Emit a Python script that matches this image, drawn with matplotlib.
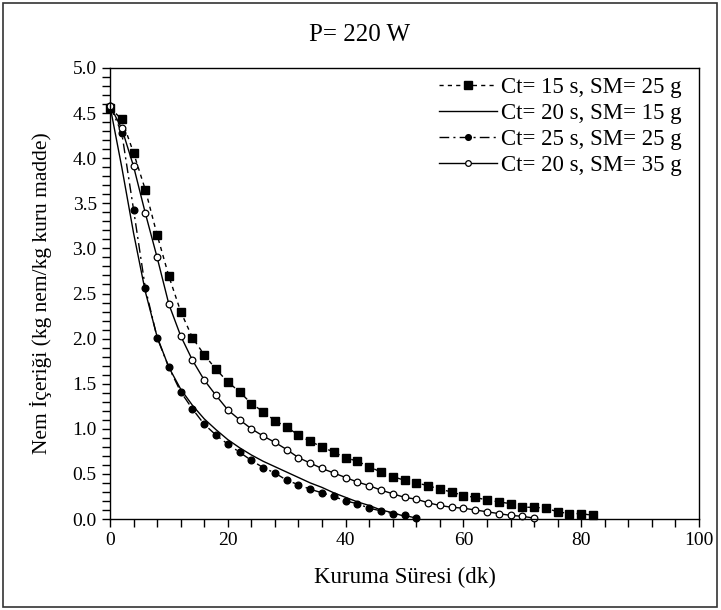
import matplotlib
matplotlib.use("Agg")
import matplotlib.pyplot as plt
from matplotlib.ticker import MultipleLocator
from matplotlib.patches import Rectangle

plt.rcParams['font.family'] = ['Liberation Serif', 'DejaVu Serif']

# Data (time in minutes, moisture content kg water / kg dry matter)
t_sq = list(range(0, 84, 2))
v_sq = [4.56, 4.43, 4.06, 3.65, 3.15, 2.69, 2.30, 2.01, 1.82, 1.66, 1.52, 1.41,
        1.28, 1.19, 1.09, 1.02, 0.93, 0.86, 0.80, 0.74, 0.68, 0.64, 0.58, 0.52,
        0.47, 0.43, 0.40, 0.37, 0.33, 0.30, 0.26, 0.24, 0.21, 0.19, 0.17, 0.13,
        0.13, 0.12, 0.08, 0.06, 0.06, 0.04]

t_line = list(range(0, 52, 2))
v_line = [4.58, 3.90, 3.17, 2.52, 2.02, 1.68, 1.44, 1.26, 1.11, 0.99, 0.88, 0.79,
          0.71, 0.64, 0.58, 0.52, 0.46, 0.40, 0.35, 0.29, 0.24, 0.19, 0.15, 0.10,
          0.07, 0.03]

t_fc = list(range(0, 54, 2))
v_fc = [4.58, 4.28, 3.43, 2.56, 2.01, 1.68, 1.41, 1.22, 1.05, 0.93, 0.83, 0.74,
        0.65, 0.57, 0.51, 0.43, 0.38, 0.33, 0.29, 0.25, 0.20, 0.17, 0.12, 0.09,
        0.06, 0.04, 0.01]

t_oc = list(range(0, 74, 2))
v_oc = [4.58, 4.33, 3.91, 3.39, 2.90, 2.38, 2.03, 1.76, 1.54, 1.37, 1.21, 1.10,
        1.00, 0.92, 0.85, 0.77, 0.68, 0.62, 0.56, 0.51, 0.46, 0.41, 0.37, 0.32,
        0.28, 0.24, 0.22, 0.18, 0.15, 0.13, 0.12, 0.10, 0.08, 0.06, 0.04, 0.03,
        0.01]

labels = ["Ct= 15 s, SM= 25 g", "Ct= 20 s, SM= 15 g",
          "Ct= 25 s, SM= 25 g", "Ct= 20 s, SM= 35 g"]

fig = plt.figure(figsize=(7.21, 6.10), dpi=100)
ax = fig.add_axes([110/721, 1-519/610, 589/721, 451/610])

ax.plot(t_sq, v_sq, color='black', lw=1.0, ls=(0, (3, 3)), marker='s', ms=6,
        mfc='black', mec='black', label=labels[0], clip_on=False)
ax.plot(t_line, v_line, color='black', lw=1.0, ls='-', label=labels[1])
ax.plot(t_fc, v_fc, color='black', lw=1.0, ls=(0, (7, 3, 1.5, 3)), marker='o', ms=4.8,
        mfc='black', mec='black', label=labels[2], clip_on=False)
ax.plot(t_oc, v_oc, color='black', lw=1.0, ls='-', marker='o', ms=4.8,
        mfc='white', mec='black', mew=0.9, label=labels[3], clip_on=False)

ax.set_xlim(0, 100)
ax.set_ylim(0, 5.0)
ax.xaxis.set_major_locator(MultipleLocator(20))
ax.xaxis.set_minor_locator(MultipleLocator(4))
ax.yaxis.set_major_locator(MultipleLocator(0.5))
ax.yaxis.set_minor_locator(MultipleLocator(0.1))
ax.yaxis.set_major_formatter(matplotlib.ticker.FormatStrFormatter('%.1f'))
ax.tick_params(which='both', direction='out', length=6, width=1, labelsize=14)
for s in ax.spines.values():
    s.set_linewidth(1.0)

ax.set_xlabel("Kuruma Süresi (dk)", fontsize=16.5, labelpad=13)
ax.set_ylabel("Nem İçeriği (kg nem/kg kuru madde)", fontsize=15.5, labelpad=15)
fig.text(360/721, 1-35/610, "P= 220 W", ha='center', va='center', fontsize=18)

leg = ax.legend(loc='upper right', bbox_to_anchor=(1 - 8/589, 1.0), frameon=False,
                fontsize=16.5, handlelength=2.5, handletextpad=0.2,
                labelspacing=0.22, borderaxespad=0.0, markerscale=0.85)

fig.patches.append(Rectangle((3/721, 3/610), 714/721, 604/610, transform=fig.transFigure,
                             fill=False, edgecolor='#333333', lw=1.2))

fig.savefig("out.png", dpi=100)
